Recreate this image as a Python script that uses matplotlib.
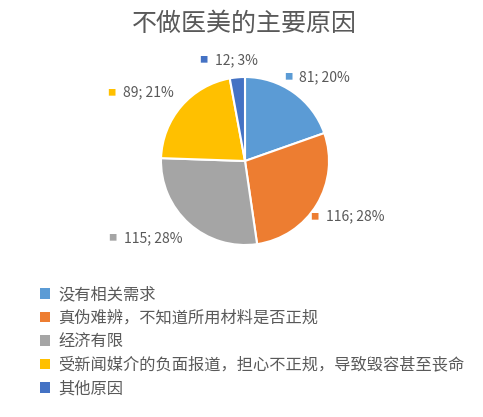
import matplotlib
matplotlib.use('Agg')
import matplotlib.pyplot as plt
from matplotlib.patches import Patch
import numpy as np

plt.rcParams['font.family'] = ['Noto Sans CJK SC', 'DejaVu Sans']

title = '不做医美的主要原因'
reasons = ['没有相关需求',
           '真伪难辨，不知道所用材料是否正规',
           '经济有限',
           '受新闻媒介的负面报道，担心不正规，导致毁容甚至丧命',
           '其他原因']
counts = [81, 116, 115, 89, 12]
percents = [20, 28, 28, 21, 3]
colors = ['#5B9BD5', '#ED7D31', '#A5A5A5', '#FFC000', '#4472C4']
text_color = '#595959'

fig = plt.figure(figsize=(4.83, 4.17), dpi=100)
ax = fig.add_axes([119 / 483, 130 / 417, 252 / 483, 252 / 417])

wedges, _ = ax.pie(counts, colors=colors, startangle=90, counterclock=False,
                   radius=1, wedgeprops=dict(edgecolor='white', linewidth=1.5))
ax.set_xlim(-1.5, 1.5)
ax.set_ylim(-1.5, 1.5)
ax.set_aspect('equal')
ax.axis('off')

# data labels outside the pie, with a small coloured square in front
for w, n, p, c in zip(wedges, counts, percents, colors):
    ang = np.deg2rad((w.theta1 + w.theta2) / 2)
    x, y = 1.12 * np.cos(ang), 1.12 * np.sin(ang)
    if abs(np.cos(ang)) < 0.3:
        ha = 'center'
    else:
        ha = 'left' if np.cos(ang) > 0 else 'right'
    va = 'bottom' if np.sin(ang) > 0 else 'top'
    t = ax.text(x, y, '{0}; {1}%'.format(n, p), ha=ha, va=va,
                fontsize=10, color=text_color)
    ax.annotate('■', xy=(0, 0.5), xycoords=t, xytext=(-5, 0),
                textcoords='offset points', ha='right', va='center',
                fontsize=6, color=c)

fig.text(0.505, 1 - 24 / 417, title, ha='center', va='center',
         fontsize=18, color=text_color)

handles = [Patch(facecolor=c, edgecolor='none') for c in colors]
leg = fig.legend(handles, reasons, loc='upper left',
                 bbox_to_anchor=(32 / 483, 1 - 278 / 417), frameon=False,
                 fontsize=11.7, handlelength=0.6, handleheight=0.6,
                 handletextpad=0.5, labelspacing=0.4, borderpad=0)
for txt in leg.get_texts():
    txt.set_color(text_color)

fig.savefig('out.png', dpi=100)
